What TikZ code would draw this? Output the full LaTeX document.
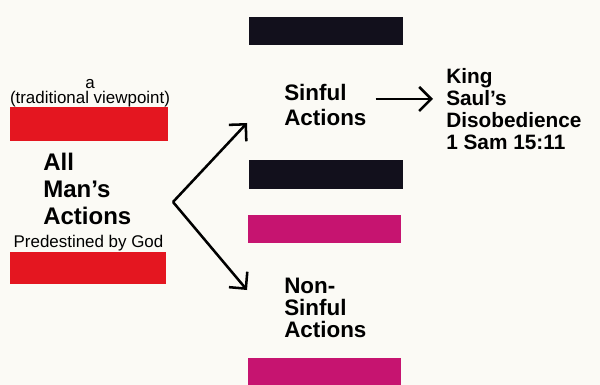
\documentclass[tikz,border=0pt]{standalone}
\usepackage{fontspec}
\setmainfont{Liberation Sans}
\usetikzlibrary{arrows.meta,positioning}
\definecolor{paper}{RGB}{251,250,245}
\definecolor{stripred}{RGB}{228,22,32}
\definecolor{stripblack}{RGB}{18,16,28}
\definecolor{stripmagenta}{RGB}{198,20,112}
\begin{document}
\begin{tikzpicture}[
    x=0.75pt, y=-0.75pt,
    line width=1.9pt,
    % caption text above and below the red strips
    caption/.style={
        font=\fontsize{12.7}{14}\selectfont,
        inner sep=0pt,
        },
    % the bold headings
    heading/.style={
        font=\bfseries\fontsize{16.8}{18.75}\selectfont,
        align=left,
        inner sep=0pt,
        anchor=north west,
        },
    pointer/.style={-{Straight Barb[length=9pt,width=18pt]}},
    ]
    \useasboundingbox[fill=paper] (0,0) rectangle (600,385);

    % strips
    \fill[stripred] (10,107) rectangle (168,141);
    \fill[stripred] (10,252) rectangle (166,284);
    \fill[stripblack] (249,17) rectangle (403,45);
    \fill[stripblack] (249,160) rectangle (403,189);
    \fill[stripmagenta] (248,215) rectangle (401,243);
    \fill[stripmagenta] (248,358) rectangle (401,385);

    \node [caption] (viewpoint) at (90,99) {(traditional viewpoint)};
    \node [caption, above=0pt of viewpoint] (article) {a};
    \node [caption] (predestined) at (88.5,243) {Predestined by God};
    \node [heading, font=\bfseries\fontsize{18}{20.25}\selectfont] (allactions) at (42,152)
        {All\\Man's\\Actions};
    \node [heading] (sinful) at (283,83) {Sinful\\Actions};
    \node [heading, font=\bfseries\fontsize{16.8}{16.5}\selectfont] (nonsinful) at (283,277)
        {Non-\\Sinful\\Actions};
    \node [heading, font=\bfseries\fontsize{15.6}{16.5}\selectfont] (saul) at (445,67)
        {King\\Saul's\\Disobedience\\1 Sam 15:11};

    \coordinate (fork) at (173,202);
    \coordinate (uptip) at (247,123);
    \coordinate (downtip) at (247,290);
    \draw [pointer] (fork) -- (uptip);
    \draw [pointer] (fork) -- (downtip);
    \draw [pointer] ([xshift=6pt,yshift=4.5pt]sinful.east)
        -- ([xshift=-9pt,yshift=4.5pt]sinful.east -| saul.west);

\end{tikzpicture}
\end{document}
